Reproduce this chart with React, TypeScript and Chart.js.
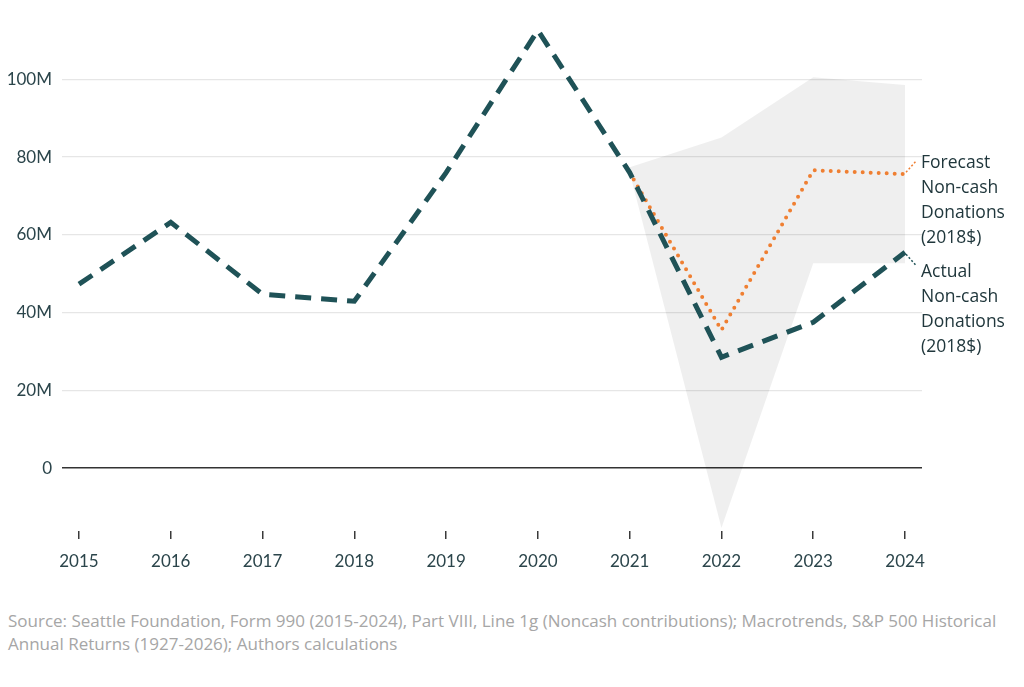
import { useEffect, useRef } from "react";
import { Chart, registerables } from "chart.js";

Chart.register(...registerables);

// values in millions of dollars (2018$)
const years = [2015, 2016, 2017, 2018, 2019, 2020, 2021, 2022, 2023, 2024];
const actual = [47.3, 63.2, 44.7, 42.9, 76, 112.6, 76, 28.5, 37.5, 55.5];
const forecastYears = [2021, 2022, 2023, 2024];
const forecast = [76, 35.5, 76.6, 75.6];
const bandUpper = [77.4, 85, 100.5, 98.5];
const bandLower = [76, -15.4, 52.7, 52.7];
const yTicks = [0, 20, 40, 60, 80, 100];
const forecastLabel = ["Forecast", "Non-cash", "Donations", "(2018$)"];
const actualLabel = ["Actual", "Non-cash", "Donations", "(2018$)"];

const TEAL = "#1f5257";
const ORANGE = "#ef7f32";
const TEXT = "#2b454b";
const FONT = "Lato, 'Open Sans', sans-serif";
const WIDE_FONT = "'Open Sans', Lato, sans-serif";

const pts = (xs: number[], ys: number[]) => xs.map((x, i) => ({ x, y: ys[i] }));

// draws the series names at the end of each line with a small dotted leader
const endLabels = {
  id: "endLabels",
  afterDatasetsDraw(chart: any) {
    const { ctx, scales } = chart;
    const items = [
      { xs: forecastYears, ys: forecast, lines: forecastLabel, color: ORANGE, lead: -13, first: -6 },
      { xs: years, ys: actual, lines: actualLabel, color: TEAL, lead: 13, first: 25 },
    ];
    ctx.save();
    items.forEach((it) => {
      const px = scales.x.getPixelForValue(it.xs[it.xs.length - 1]);
      const py = scales.y.getPixelForValue(it.ys[it.ys.length - 1]);
      ctx.strokeStyle = it.color;
      ctx.lineWidth = 1.5;
      ctx.setLineDash([2, 2]);
      ctx.beginPath();
      ctx.moveTo(px + 1, py + (it.lead < 0 ? -2 : 2));
      ctx.lineTo(px + 11, py + it.lead);
      ctx.stroke();
      ctx.setLineDash([]);
      ctx.fillStyle = "#20373c";
      ctx.font = `500 17.5px ${WIDE_FONT}`;
      ctx.textAlign = "left";
      ctx.textBaseline = "alphabetic";
      it.lines.forEach((t, i) => ctx.fillText(t, px + 16, py + it.first + i * 25));
    });
    ctx.restore();
  },
};

const App = () => {
  const canvasRef = useRef<HTMLCanvasElement | null>(null);

  useEffect(() => {
    document.body.style.margin = "0";
    if (!canvasRef.current) return;
    const ctx = canvasRef.current.getContext("2d");
    if (!ctx) return;

    const chart = new Chart(ctx, {
      type: "line",
      data: {
        datasets: [
          {
            data: pts(forecastYears, bandUpper),
            borderWidth: 0,
            pointRadius: 0,
            backgroundColor: "rgba(0,0,0,0.062)",
            fill: "+1",
            order: 3,
          },
          {
            data: pts(forecastYears, bandLower),
            borderWidth: 0,
            pointRadius: 0,
            fill: false,
            order: 3,
          },
          {
            data: pts(forecastYears, forecast),
            borderColor: ORANGE,
            borderWidth: 4,
            borderDash: [0, 8],
            borderCapStyle: "round",
            pointRadius: 0,
            fill: false,
            order: 2,
          },
          {
            data: pts(years, actual),
            borderColor: TEAL,
            borderWidth: 5,
            borderDash: [16, 10],
            pointRadius: 0,
            fill: false,
            order: 1,
          },
        ],
      },
      options: {
        responsive: false,
        animation: false,
        layout: { padding: { top: 20, right: 102, left: 0, bottom: 0 } },
        plugins: { legend: { display: false }, tooltip: { enabled: false } },
        scales: {
          x: {
            type: "linear",
            min: 2014.815,
            max: 2024.185,
            afterBuildTicks: (s: any) => {
              s.ticks = years.map((v) => ({ value: v }));
            },
            afterFit: (s: any) => {
              s.height = 69;
            },
            grid: { drawOnChartArea: false, tickLength: 8, color: "#3a3a3a", lineWidth: 1.5 },
            border: { display: false },
            ticks: {
              padding: 12,
              color: TEXT,
              font: { family: FONT, size: 17 },
              callback: (v: any) => String(v),
            },
          },
          y: {
            min: -16.2,
            max: 115.2,
            afterBuildTicks: (s: any) => {
              s.ticks = yTicks.map((v) => ({ value: v }));
            },
            afterFit: (s: any) => {
              s.width = 62;
            },
            grid: {
              drawTicks: false,
              color: (c: any) => (c.tick && c.tick.value === 0 ? "#333333" : "#e6e6e6"),
              lineWidth: (c: any) => (c.tick && c.tick.value === 0 ? 1.5 : 1.3),
            },
            border: { display: false },
            ticks: {
              padding: 10,
              color: TEXT,
              font: { family: FONT, size: 17 },
              callback: (v: any) => (v === 0 ? "0" : `${v}M`),
            },
          },
        },
      },
      plugins: [endLabels],
    });

    return () => {
      chart.destroy();
    };
  }, []);

  return (
    <div style={{ position: "relative", width: 1024, height: 687, background: "#fff" }}>
      <canvas ref={canvasRef} width={1024} height={600} style={{ display: "block" }} />
      <div
        style={{
          position: "absolute",
          left: 8,
          top: 609,
          fontFamily: WIDE_FONT,
          fontSize: 17,
          lineHeight: "23px",
          color: "#a6a6a6",
          whiteSpace: "nowrap",
        }}
      >
        Source: Seattle Foundation, Form 990 (2015-2024), Part VIII, Line 1g (Noncash contributions); Macrotrends, S&amp;P 500 Historical
        <br />
        Annual Returns (1927-2026); Authors calculations
      </div>
    </div>
  );
};

export default App;
